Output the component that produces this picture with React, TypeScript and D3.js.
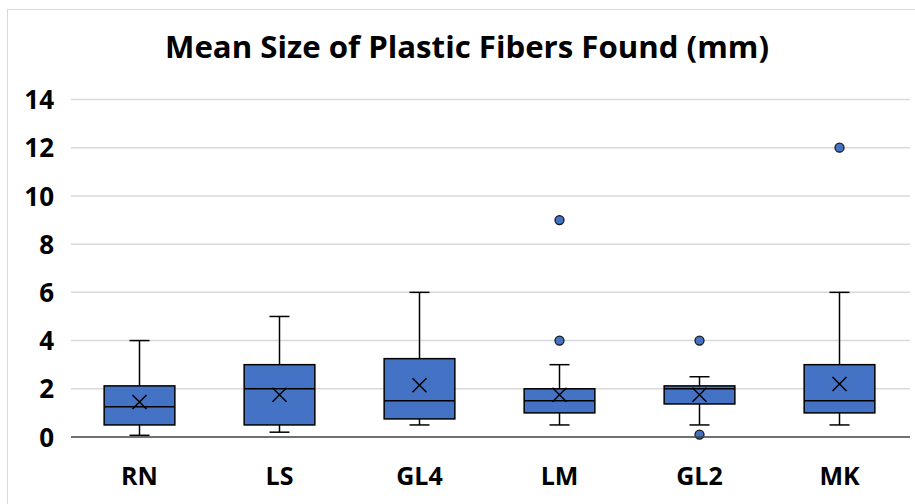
import React from "react";
import * as d3 from "d3";

const categories = ["RN", "LS", "GL4", "LM", "GL2", "MK"];
const whiskerLow = [0.07, 0.2, 0.5, 0.5, 0.5, 0.5];
const q1 = [0.5, 0.5, 0.75, 1.0, 1.37, 1.0];
const median = [1.25, 2.0, 1.5, 1.5, 2.0, 1.5];
const q3 = [2.12, 3.0, 3.25, 2.0, 2.12, 3.0];
const whiskerHigh = [4.0, 5.0, 6.0, 3.0, 2.5, 6.0];
const means = [1.45, 1.75, 2.15, 1.75, 1.75, 2.2];
const outliers: number[][] = [[], [], [], [9, 4], [4, 0.1], [12]];
const yTicks = [0, 2, 4, 6, 8, 10, 12, 14];
const title = "Mean Size of Plastic Fibers Found (mm)";

const W = 915;
const H = 504;
const FONT = "'Open Sans', 'Liberation Sans', Arial, sans-serif";

export default function App() {
  const x = d3.scaleBand().domain(categories).range([69.5, 909.5]);
  const y = d3.scaleLinear().domain([0, 14]).range([437, 99.5]);
  const bw = x.bandwidth() * 0.505;
  const capW = 20;
  const xs = 7;

  return (
    <svg
      width={W}
      height={H}
      style={{ position: "absolute", left: 0, top: 0, background: "#fff" }}
    >
      <rect x={7.5} y={9.5} width={930} height={520} fill="#fff" stroke="#d9d9d9" strokeWidth={1} />
      <text
        x={467}
        y={58}
        textAnchor="middle"
        fontFamily={FONT}
        fontWeight="bold"
        fontSize={31}
        fill="#000"
        textLength={604}
        lengthAdjust="spacingAndGlyphs"
      >
        {title}
      </text>
      {yTicks.map((t) => (
        <g key={t}>
          {t !== 0 && (
            <line x1={71} x2={910} y1={y(t)} y2={y(t)} stroke="#d9d9d9" strokeWidth={1.5} />
          )}
          <text
            x={54}
            y={y(t)}
            dy="0.37em"
            textAnchor="end"
            fontFamily={FONT}
            fontWeight="bold"
            fontSize={26}
            fill="#000"
          >
            {t}
          </text>
        </g>
      ))}
      {categories.map((c, i) => {
        const cx = (x(c) as number) + x.bandwidth() / 2;
        return (
          <g key={c}>
            <line x1={cx} x2={cx} y1={y(q3[i])} y2={y(whiskerHigh[i])} stroke="#000" strokeWidth={1.5} />
            <line x1={cx} x2={cx} y1={y(q1[i])} y2={y(whiskerLow[i])} stroke="#000" strokeWidth={1.5} />
            <line x1={cx - capW / 2} x2={cx + capW / 2} y1={y(whiskerHigh[i])} y2={y(whiskerHigh[i])} stroke="#000" strokeWidth={1.5} />
            <line x1={cx - capW / 2} x2={cx + capW / 2} y1={y(whiskerLow[i])} y2={y(whiskerLow[i])} stroke="#000" strokeWidth={1.5} />
            <rect
              x={cx - bw / 2}
              y={y(q3[i])}
              width={bw}
              height={y(q1[i]) - y(q3[i])}
              fill="#4472C4"
              stroke="#000"
              strokeWidth={1.5}
            />
            <line x1={cx - bw / 2} x2={cx + bw / 2} y1={y(median[i])} y2={y(median[i])} stroke="#000" strokeWidth={1.5} />
            <path
              d={`M${cx - xs},${y(means[i]) - xs}L${cx + xs},${y(means[i]) + xs}M${cx - xs},${y(means[i]) + xs}L${cx + xs},${y(means[i]) - xs}`}
              stroke="#000"
              strokeWidth={1.5}
              fill="none"
            />
            {outliers[i].map((o, j) => (
              <circle key={j} cx={cx} cy={y(o)} r={4.5} fill="#4472C4" stroke="#1a1a1a" strokeWidth={1.3} />
            ))}
            <text
              x={cx}
              y={485}
              textAnchor="middle"
              fontFamily={FONT}
              fontWeight="bold"
              fontSize={25}
              fill="#000"
            >
              {c}
            </text>
          </g>
        );
      })}
      <line x1={71} x2={910} y1={y(0)} y2={y(0)} stroke="#404040" strokeWidth={1.5} />
    </svg>
  );
}
